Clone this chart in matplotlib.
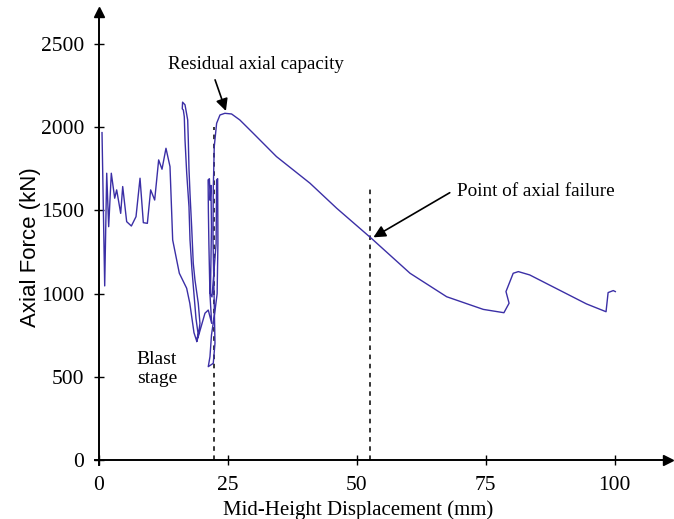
import matplotlib
matplotlib.use("Agg")
import matplotlib.pyplot as plt

# Mid-height displacement (mm) and axial force (kN)
displacement = [
    0.58, 1.10, 1.49, 1.87, 2.38, 3.04, 3.42, 4.20, 4.59, 5.36, 6.27, 7.17, 7.95,
    8.59, 9.37, 10.01, 10.79, 11.56, 12.21, 12.98, 13.76, 14.28, 15.57, 16.99,
    17.60, 18.41,
    18.93, 19.30, 19.57, 19.24, 18.60, 18.27, 17.96, 17.64, 17.44, 17.31, 17.19,
    16.67, 16.20, 16.14, 16.34, 16.53, 16.67, 17.00, 17.44, 17.64, 18.00, 18.40,
    18.80, 19.20, 18.93,
    19.24, 20.54, 21.18, 21.84,
    21.50, 21.30, 21.20, 21.15, 21.40, 21.55, 21.70, 21.80, 21.60, 21.90, 22.70,
    22.80, 23.00, 23.05, 22.90, 22.50, 21.80, 21.51, 21.18, 22.15, 22.48,
    22.30, 22.10, 22.15, 22.34, 22.80, 23.45, 24.40, 25.70, 27.30, 29.90, 34.40,
    40.90, 46.10, 52.80, 60.30, 67.40, 74.50, 78.50, 79.50, 78.90, 80.30, 81.30,
    83.50, 94.50, 98.30, 98.70, 99.70, 100.10,
]
axial_force = [
    1967, 1046, 1723, 1402, 1723, 1573, 1623, 1482, 1643, 1432, 1406, 1462, 1693,
    1426, 1422, 1623, 1562, 1803, 1747, 1873, 1763, 1322, 1122, 1032,
    942, 765,
    715, 760, 821, 942, 1082, 1182, 1400, 1600, 1750, 1923, 2043,
    2134, 2150, 2110, 2103, 2063, 1923, 1723, 1522, 1322, 1150, 1000,
    850, 760, 711,
    741, 882, 901, 821,
    1000, 1300, 1500, 1683, 1690, 1560, 1650, 1400, 1000, 980, 1300,
    1683, 1690, 1300, 1000, 900, 750, 621, 561, 581, 701,
    1000, 1322, 1623, 1883, 2023, 2073, 2083, 2079, 2043, 1963, 1823,
    1663, 1512, 1332, 1122, 981, 905, 885, 942, 1012, 1122, 1132,
    1112, 938, 891, 1006, 1018, 1012,
]

x_ticks = [0, 25, 50, 75, 100]
y_ticks = [0, 500, 1000, 1500, 2000, 2500]
blast_end_x = 22.3
blast_line_top = 2000
failure_x = 52.5
failure_line_top = 1635

serif = ["Liberation Serif", "DejaVu Serif"]
sans = ["Liberation Sans", "DejaVu Sans"]

fig = plt.figure(figsize=(6.74, 5.19), dpi=100)
ax = fig.add_axes([0.1408, 0.104, 0.9910 - 0.1408, 0.977 - 0.104])

ax.plot(displacement, axial_force, color="#3b2fa6", lw=1.0, zorder=3)

ax.plot([blast_end_x, blast_end_x], [0, blast_line_top], color="black",
        lw=1.1, ls=(0, (3, 3)), zorder=2)
ax.plot([failure_x, failure_x], [0, failure_line_top], color="black",
        lw=1.1, ls=(0, (3, 3)), zorder=2)

ax.set_xlim(-0.8, 110.3)
ax.set_ylim(-30, 2692)
for s in ["top", "right"]:
    ax.spines[s].set_visible(False)
for s in ["left", "bottom"]:
    ax.spines[s].set_position(("data", 0))
    ax.spines[s].set_linewidth(1.4)

ax.set_xticks(x_ticks)
ax.set_yticks(y_ticks)
ax.set_xticklabels([str(v) for v in x_ticks], family=serif, fontsize=15.5)
ax.set_yticklabels([str(v) for v in y_ticks], family=serif, fontsize=15.5)
ax.tick_params(direction="inout", length=7, width=1.0)
ax.tick_params(axis="x", pad=8)
ax.tick_params(axis="y", pad=7)

# axis arrowheads
ax.plot(1, 0, marker=">", color="black", markersize=7,
        transform=ax.get_yaxis_transform(), clip_on=False)
ax.plot(0, 1, marker="^", color="black", markersize=7,
        transform=ax.get_xaxis_transform(), clip_on=False)

fig.text(0.045, 0.524, "Axial Force (kN)", rotation=90, ha="center",
         va="center", family=sans, fontsize=16)
fig.text(0.532, 0.017, "Mid-Height Displacement (mm)", ha="center",
         va="center", family=serif, fontsize=15)

arrow = dict(arrowstyle="-|>", color="black", lw=1.2, mutation_scale=18,
             shrinkA=0, shrinkB=0)
ax.annotate("", xy=(24.6, 2097), xytext=(22.5, 2284), arrowprops=arrow)
ax.text(30.4, 2374, "Residual axial capacity", fontsize=13.7, family=serif,
        ha="center", va="center")
ax.annotate("", xy=(53.2, 1338), xytext=(68.0, 1606), arrowprops=arrow)
ax.text(69.4, 1613, "Point of axial failure", fontsize=13.8, family=serif,
        ha="left", va="center")
ax.text(7.3, 547, "Blast\nstage", fontsize=14, family=serif, ha="left",
        va="center", linespacing=1.1)

fig.savefig("out.png", dpi=100)
